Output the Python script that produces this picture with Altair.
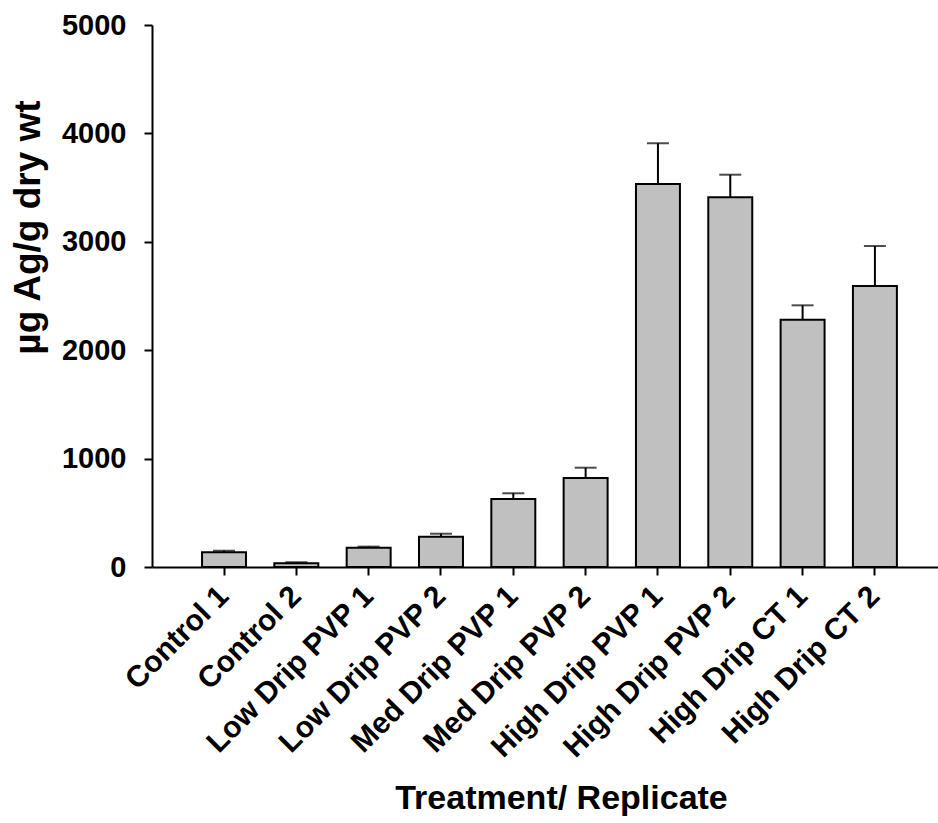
import altair as alt
import pandas as pd

# Silver concentration per treatment replicate (mean and standard error)
treatments = [
    "Control 1", "Control 2", "Low Drip PVP 1", "Low Drip PVP 2",
    "Med Drip PVP 1", "Med Drip PVP 2", "High Drip PVP 1", "High Drip PVP 2",
    "High Drip CT 1", "High Drip CT 2",
]
means = [135, 34, 178, 280, 627, 821, 3533, 3410, 2281, 2592]
errors = [15, 10, 10, 27, 53, 95, 376, 209, 133, 369]

df = pd.DataFrame({"treatment": treatments, "mean": means, "err": errors})
df["upper"] = df["mean"] + df["err"]

FONT = "Liberation Sans"

x_enc = alt.X(
    "treatment:N",
    sort=treatments,
    scale=alt.Scale(paddingInner=0.392, paddingOuter=0.63, align=0.549),
    axis=alt.Axis(
        title="Treatment/ Replicate",
        labelAngle=-45,
        labelAlign="right",
        labelBaseline="middle",
        labelFont=FONT,
        labelFontSize=30,
        labelFontWeight="bold",
        labelColor="black",
        labelPadding=16,
        labelLimit=400,
        tickSize=8,
        tickWidth=2,
        tickColor="black",
        domainColor="black",
        domainWidth=2,
        titleFont=FONT,
        titleFontSize=34,
        titleFontWeight="bold",
        titleColor="black",
        titleX=409,
        titleY=231,
        titleBaseline="middle",
    ),
)

y_scale = alt.Scale(domain=[0, 5000], nice=False)

y_axis = alt.Axis(
    title="µg Ag/g dry wt",
    values=[0, 1000, 2000, 3000, 4000, 5000],
    format="d",
    grid=False,
    labelFont=FONT,
    labelFontSize=29,
    labelFontWeight="bold",
    labelColor="black",
    labelPadding=18,
    tickSize=8,
    tickWidth=2,
    tickColor="black",
    domainColor="black",
    domainWidth=2,
    titleFont=FONT,
    titleFontSize=37,
    titleFontWeight="bold",
    titleColor="black",
    titleX=-124,
    titleY=202,
    titleBaseline="middle",
    titleAlign="center",
)

base = alt.Chart(df)

err_line = base.mark_rule(color="black", strokeWidth=2).encode(
    x=x_enc,
    y=alt.Y("mean:Q", scale=y_scale, axis=y_axis),
    y2="upper:Q",
)

err_cap = base.mark_tick(color="black", thickness=2, size=22).encode(
    x=alt.X("treatment:N", sort=treatments),
    y=alt.Y("upper:Q", scale=y_scale),
)

bars = base.mark_bar(color="#c0c0c0", stroke="black", strokeWidth=2).encode(
    x=alt.X("treatment:N", sort=treatments),
    y=alt.Y("mean:Q", scale=y_scale),
)

chart = (
    alt.layer(err_line, err_cap, bars)
    .properties(
        width=786,
        height=542,
        autosize=alt.AutoSizeParams(type="none"),
        padding={"left": 152, "top": 25, "right": 0, "bottom": 256},
        background="white",
    )
    .configure_view(stroke=None)
)

chart.save("out.html", embed_options={"renderer": "svg", "actions": False})
